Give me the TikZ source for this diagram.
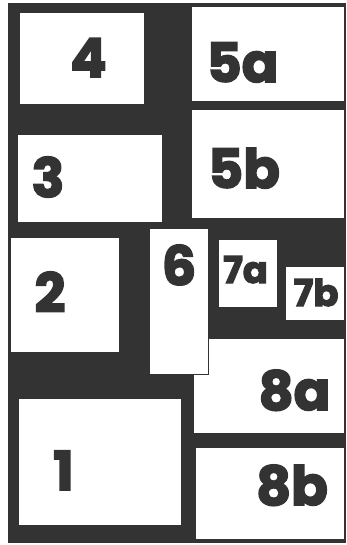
\documentclass[tikz,border=0pt]{standalone}
\usepackage{fontspec}
\setmainfont{Poppins}[BoldFeatures={FakeBold=3}]
\definecolor{ink}{HTML}{333333}
\begin{document}
\begin{tikzpicture}[x=1pt,y=-1pt,
  panel/.style={fill=white,draw=ink,line width=1pt,anchor=north west,inner sep=0pt,outer sep=0pt},
  big/.style={text=ink,font=\fontsize{54}{54}\selectfont\bfseries,anchor=base,inner sep=0pt},
  small/.style={text=ink,font=\fontsize{37}{37}\selectfont\bfseries,anchor=base,inner sep=0pt}]
\useasboundingbox (0,0) rectangle (346,545);
\fill[ink] (8,3) rectangle (346,543);
\newcommand{\panelbox}[5]{\node[panel,minimum width={(#4-#2)*1pt},minimum height={(#5-#3)*1pt}] (#1) at (#2,#3) {};}
\panelbox{p4}{19}{13}{144}{105}
\panelbox{p5a}{191}{7}{344}{102}
\panelbox{p3}{17}{135}{162}{222}
\panelbox{p5b}{191}{110}{344}{218}
\panelbox{p2}{10}{237}{119}{352}
\panelbox{p7a}{218}{239}{277}{307}
\panelbox{p7b}{285}{266}{344}{320}
\panelbox{p8a}{193}{338}{344}{433}
\panelbox{p6}{149}{228}{208}{374}
\panelbox{p1}{18}{398}{181}{525}
\panelbox{p8b}{195}{447}{344}{539}
\node[big] (t4) at (88.5,77) {4};
\node[big] (t5a) at (242.5,82) {5a};
\node[big] (t3) at (48,197) {3};
\node[big] (t5b) at (244,188) {5b};
\node[big] (t2) at (50,312) {2};
\node[big] (t6) at (179,285) {6};
\node[small] (t7a) at (245.5,283) {7a};
\node[small] (t7b) at (316,306) {7b};
\node[big] (t8a) at (294.5,410) {8a};
\node[big] (t8b) at (292,505) {8b};
\node[big] (t1) at (63.5,490) {1};
\end{tikzpicture}
\end{document}
